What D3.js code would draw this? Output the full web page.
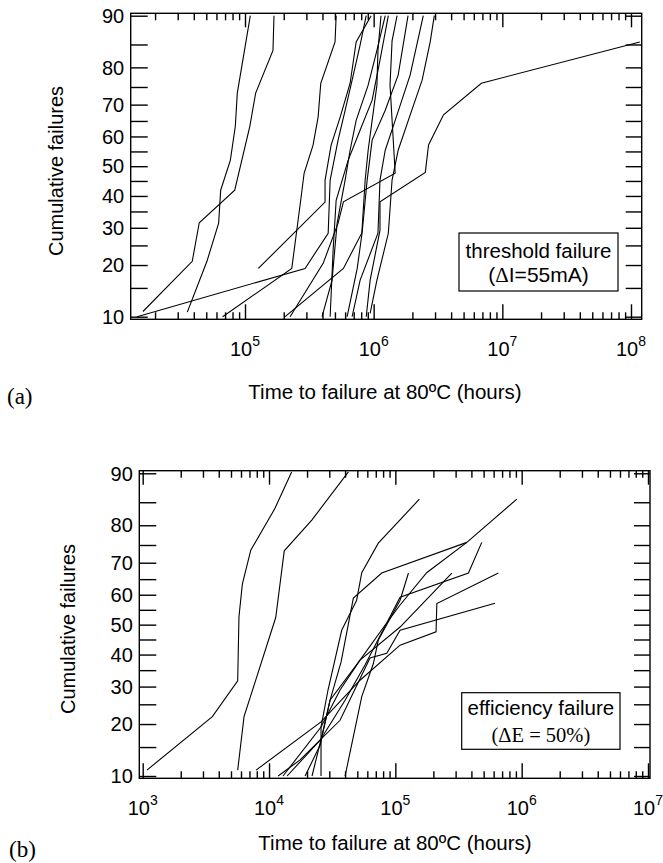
<!DOCTYPE html>
<html><head><meta charset="utf-8">
<script src="https://cdn.jsdelivr.net/npm/d3@7"></script>
<style>
html,body{margin:0;padding:0;background:#fff;}
svg{display:block;}
</style></head>
<body>
<svg id="chart" width="663" height="863"></svg>
<script>
// ---------------- DATA ----------------
// Panel (a): threshold failure, [time to failure (hours), cumulative failures (%)]
const a1  = [[1.61e4,10.8],[3.89e4,20.9],[4.41e4,31.5],[8.32e4,41.9],[1.09e5,63.3],[1.21e5,73.3],[1.65e5,83.8],[1.68e5,90]];
const a2  = [[3.56e4,10.7],[5.06e4,20.9],[6.24e4,31.4],[6.47e4,41.9],[7.69e4,52.0],[8.41e4,63.3],[8.71e4,73.3],[1.10e5,90]];
const a3  = [[6.70e4,10],[2.31e5,19.2],[2.71e5,38.6],[2.88e5,47.6],[3.38e5,57.1],[3.70e5,66.2],[3.88e5,76.0],[5.01e5,85.5],[5.11e5,90]];
const a4  = [[1.45e4,10],[2.93e5,19.2],[4.43e5,28.4],[4.59e5,45.3],[5.29e5,58.8],[6.0e5,68.3],[6.80e5,76.8],[7.85e5,84.9],[8.75e5,90]];
const a5  = [[1.27e5,19.2],[4.19e5,38.0],[4.19e5,45.3],[4.67e5,57.1],[5.49e5,66.2],[6.56e5,76.0],[7.31e5,85.5],[9.56e5,90]];
const a6  = [[2.05e5,10],[5.82e5,19.2],[8.09e5,28.5],[8.59e5,45.3],[9.06e5,55.4],[9.73e5,65.2],[1.06e6,75.5],[1.08e6,83.8],[1.14e6,90]];
const a7  = [[2.24e5,10],[4.05e5,20.4],[5.29e5,31.4],[5.82e5,38.1],[1.47e6,47.6],[1.34e6,75.5],[1.39e6,85.7],[1.52e6,90]];
const a8  = [[3.97e5,10],[4.75e5,16.6],[5.20e5,31.4],[6.0e5,45.3],[6.56e5,55.4],[7.31e5,65.2],[9.06e5,75.5],[1.06e6,83.8],[1.23e6,90]];
const a9  = [[4.59e5,10],[4.84e5,23.7],[5.11e5,38.6],[6.33e5,52.0],[7.85e5,62.1],[9.73e5,71.3],[1.12e6,81.7],[1.30e6,90]];
const a10 = [[6.22e5,10],[7.45e5,19.2],[8.14e5,28.7],[8.90e5,45.3],[9.73e5,58.8],[1.23e6,68.3],[1.55e6,78.1],[1.85e6,90]];
const a11 = [[6.80e5,10],[7.85e5,16.6],[1.08e6,28.4],[1.12e6,45.3],[1.23e6,55.4],[1.47e6,65.2],[1.92e6,78.1],[2.43e6,90]];
const a12 = [[8.75e5,10],[9.39e5,16.6],[1.12e6,29.3],[1.12e6,38.1],[2.52e6,47.9],[2.67e6,57.2],[3.49e6,66.9],[6.87e6,76.0],[1.17e8,85.5]];
const a13 = [[9.39e5,10.5],[1.06e6,16.6],[1.30e6,28.4],[1.39e6,45.3],[1.55e6,55.4],[1.92e6,66.8],[2.38e6,76.8],[2.75e6,85.5],[2.96e6,90]];

// Panel (b): efficiency failure
const b1  = [[1.08e3,10.9],[3.56e3,21.8],[5.65e3,31.7],[5.78e3,52.6],[6.15e3,63.4],[7.17e3,73.6],[1.11e4,83.7],[1.51e4,90.2]];
const b2  = [[5.65e3,10.9],[6.34e3,21.8],[1.13e4,52.4],[1.32e4,73.4],[2.18e4,81.2],[4.25e4,90.2]];
const b3  = [[2.58e4,10],[2.58e4,19.3],[2.93e4,29.0],[3.76e4,48.1],[4.94e4,58.2],[5.42e4,67.0],[7.33e4,75.5],[1.55e5,85.6]];
const b4  = [[1.93e4,10],[2.54e4,15.4],[3.04e4,26.1],[3.72e4,37.6],[4.65e4,58.9],[7.80e4,66.9],[3.68e5,75.7]];
const b5  = [[1.29e4,10],[2.58e4,19.3],[3.65e4,29.0],[5.25e4,38.2],[8.28e4,49.8],[1.09e5,56.6],[1.77e5,67.0],[3.68e5,75.7],[9.15e5,85.6]];
const b6  = [[1.39e4,10],[2.54e4,16.4],[4.0e4,26.1],[5.75e4,36.6],[1.09e5,59.2],[3.79e5,66.9],[4.83e5,75.7]];
const b7  = [[4.0e4,10],[5.42e4,27.1],[6.70e4,37.1],[7.33e4,44.8],[1.09e5,58.2],[1.27e5,66.9]];
const b8  = [[2.19e4,10],[2.63e4,17.5],[3.04e4,26.1],[5.25e4,38.2],[1.09e5,49.2],[2.80e5,66.9]];
const b9  = [[7.89e3,10.9],[2.58e4,20.5],[5.25e4,31.9],[1.09e5,43.1],[2.10e5,47.6],[2.13e5,57.1],[6.54e5,66.9]];
const b10 = [[1.18e4,10],[1.76e4,12.6],[3.65e4,20.9],[6.3e4,38.9],[8.55e4,40.4],[1.09e5,48.1],[6.15e5,57.2]];

// Ticks / labels
const yTickLabels = [10,20,30,40,50,60,70,80,90];
const yMinorTicks = [15,25,35,45,55,65,75,85];
const xMajorA = [1e5,1e6,1e7,1e8];
const xMajorB = [1e3,1e4,1e5,1e6,1e7];
const yTitle = "Cumulative failures";
const xTitle = "Time to failure at 80ºC (hours)";

// ---------------- HELPERS ----------------
function probit(p){
  const a=[-3.969683028665376e+01,2.209460984245205e+02,-2.759285104469687e+02,1.383577518672690e+02,-3.066479806614716e+01,2.506628277459239e+00];
  const b=[-5.447609879822406e+01,1.615858368580409e+02,-1.556989798598866e+02,6.680131188771972e+01,-1.328068155288572e+01];
  const c=[-7.784894002430293e-03,-3.223964580411365e-01,-2.400758277161838e+00,-2.549732539343734e+00,4.374664141464968e+00,2.938163982698783e+00];
  const d=[7.784695709041462e-03,3.224671290700398e-01,2.445134137142996e+00,3.754408661907416e+00];
  const pl=0.02425, ph=1-pl; let q,r;
  if(p<pl){q=Math.sqrt(-2*Math.log(p));return (((((c[0]*q+c[1])*q+c[2])*q+c[3])*q+c[4])*q+c[5])/((((d[0]*q+d[1])*q+d[2])*q+d[3])*q+1);}
  if(p<=ph){q=p-0.5;r=q*q;return (((((a[0]*r+a[1])*r+a[2])*r+a[3])*r+a[4])*r+a[5])*q/(((((b[0]*r+b[1])*r+b[2])*r+b[3])*r+b[4])*r+1);}
  q=Math.sqrt(-2*Math.log(1-p));return -(((((c[0]*q+c[1])*q+c[2])*q+c[3])*q+c[4])*q+c[5])/((((d[0]*q+d[1])*q+d[2])*q+d[3])*q+1);
}
function minorTicks(lo, hi){
  const out=[];
  for(let e=Math.floor(Math.log10(lo)); e<=Math.ceil(Math.log10(hi)); e++){
    for(let m=2;m<=9;m++){const v=m*Math.pow(10,e); if(v>lo && v<hi) out.push(v);}
  }
  return out;
}

const SANS = "'Liberation Sans', Arial, Helvetica, sans-serif";
const SERIF = "'Liberation Serif', 'Times New Roman', serif";
const svg = d3.select("#chart");

function drawPanel(cfg){
  const g = svg.append("g");
  const x = d3.scaleLog().domain(cfg.xDomain).range(cfg.xRange);
  const yl = d3.scaleLinear().domain([probit(0.10), probit(0.90)]).range([cfg.y10, cfg.y90]);
  const py = p => yl(probit(p/100));
  const xLo = x.invert(cfg.left), xHi = x.invert(cfg.right);

  // curves
  const line = d3.line().x(d=>x(d[0])).y(d=>py(d[1]));
  g.append("g").selectAll("path").data(cfg.series).join("path")
    .attr("d", line).attr("fill","none").attr("stroke","#000").attr("stroke-width",1.1)
    .attr("stroke-linejoin","miter");

  // frame
  g.append("rect").attr("x",cfg.left).attr("y",cfg.top)
    .attr("width",cfg.right-cfg.left).attr("height",cfg.bottom-cfg.top)
    .attr("fill","none").attr("stroke","#000").attr("stroke-width",1.4);

  const styleTicks = sel => { sel.select(".domain").remove();
    sel.selectAll(".tick line").attr("stroke","#000").attr("stroke-width",1.4);
    sel.selectAll(".tick text").remove(); };

  const minors = minorTicks(xLo, xHi);
  // x ticks bottom/top
  g.append("g").attr("transform",`translate(0,${cfg.bottom})`)
    .call(d3.axisBottom(x).tickValues(minors).tickSize(-7).tickFormat("")).call(styleTicks);
  g.append("g").attr("transform",`translate(0,${cfg.bottom})`)
    .call(d3.axisBottom(x).tickValues(cfg.xMajor).tickSize(-15).tickFormat("")).call(styleTicks);
  g.append("g").attr("transform",`translate(0,${cfg.top})`)
    .call(d3.axisTop(x).tickValues(minors).tickSize(-7).tickFormat("")).call(styleTicks);
  g.append("g").attr("transform",`translate(0,${cfg.top})`)
    .call(d3.axisTop(x).tickValues(cfg.xMajor).tickSize(-14).tickFormat("")).call(styleTicks);

  // y ticks left/right (every 5 %)
  const yAll = yTickLabels.concat(yMinorTicks).map(p=>probit(p/100));
  g.append("g").attr("transform",`translate(${cfg.left},0)`)
    .call(d3.axisLeft(yl).tickValues(yAll).tickSize(-17).tickFormat("")).call(styleTicks);
  g.append("g").attr("transform",`translate(${cfg.right},0)`)
    .call(d3.axisRight(yl).tickValues(yAll).tickSize(-16).tickFormat("")).call(styleTicks);

  // y tick labels
  g.append("g").selectAll("text").data(yTickLabels).join("text")
    .attr("x", cfg.left-6.5).attr("y", d=>py(d)).attr("dy","0.36em")
    .attr("text-anchor","end").attr("font-family",SANS).attr("font-size",cfg.tickFont)
    .text(d=>d);

  // x tick labels 10^n
  const xl = g.append("g").selectAll("text").data(cfg.xMajor).join("text")
    .attr("x", d=>x(d)).attr("y", cfg.bottom+cfg.xLabOff)
    .attr("text-anchor","middle").attr("font-family",SANS).attr("font-size",cfg.tickFont);
  xl.append("tspan").text("10");
  xl.append("tspan").attr("font-size",14).attr("dy",-10).text(d=>Math.round(Math.log10(d)));

  // axis titles
  g.append("text").attr("transform",`translate(${cfg.yTitleX},${cfg.yTitleY}) rotate(-90)`)
    .attr("text-anchor","middle").attr("dy","0.36em").attr("font-family",SANS).attr("font-size",20)
    .text(yTitle);
  g.append("text").attr("x",cfg.xTitleX).attr("y",cfg.xTitleY)
    .attr("text-anchor","middle").attr("font-family",SANS).attr("font-size",20.5)
    .text(xTitle);

  // panel letter
  g.append("text").attr("x",cfg.letterX).attr("y",cfg.letterY)
    .attr("font-family",SERIF).attr("font-size",23).text(cfg.letter);

  // legend box
  const L = cfg.legend;
  g.append("rect").attr("x",L.x).attr("y",L.y).attr("width",L.w).attr("height",L.h)
    .attr("fill","#fff").attr("stroke","#000").attr("stroke-width",1.2);
  g.append("text").attr("x",L.x+L.w/2).attr("y",L.y1).attr("text-anchor","middle")
    .attr("font-family",SANS).attr("font-size",20.5).text(L.line1);
  const t2 = g.append("text").attr("x",L.x+L.w/2).attr("y",L.y2).attr("text-anchor","middle")
    .attr("font-family",L.serif2?SERIF:SANS).attr("font-size",L.serif2?20.5:21);
  L.line2.forEach(part => t2.append("tspan").attr("font-family", part.serif?SERIF:null).text(part.t));
}

drawPanel({
  series:[a1,a2,a3,a4,a5,a6,a7,a8,a9,a10,a11,a12,a13],
  xDomain:[1e5,1e8], xRange:[245,631], xMajor:xMajorA,
  left:130.7, right:641.7, top:13.3, bottom:319.3, y10:316.7, y90:15.7,
  tickFont:20, xLabOff:37,
  yTitleX:56, yTitleY:171, xTitleX:385, xTitleY:399,
  letter:"(a)", letterX:7, letterY:404,
  legend:{x:459,y:233,w:159,h:58,y1:258,y2:282,line1:"threshold failure",
    line2:[{t:"("},{t:"Δ",serif:true},{t:"I=55mA)"}]}
});

drawPanel({
  series:[b1,b2,b3,b4,b5,b6,b7,b8,b9,b10],
  xDomain:[1e3,1e7], xRange:[142.7,648], xMajor:xMajorB,
  left:139.3, right:650, top:470.7, bottom:778.3, y10:776, y90:473.3,
  tickFont:20, xLabOff:37,
  yTitleX:68, yTitleY:629, xTitleX:395, xTitleY:850,
  letter:"(b)", letterX:9, letterY:857,
  legend:{x:461.7,y:692.7,w:158.3,h:56.6,y1:715,y2:741.5,line1:"efficiency failure",
    serif2:true, line2:[{t:"(ΔE = 50%)"}]}
});
</script>
</body></html>
